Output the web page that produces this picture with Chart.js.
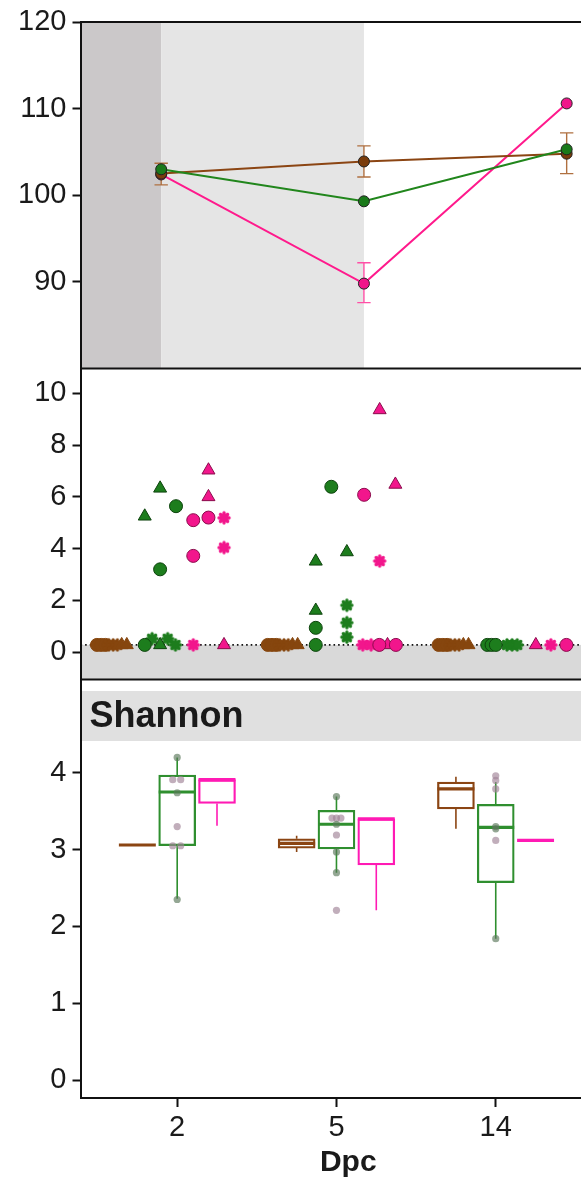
<!DOCTYPE html>
<html>
<head>
<meta charset="utf-8">
<script src="https://cdn.jsdelivr.net/npm/chart.js@4.4.1/dist/chart.umd.min.js"></script>
<style>
  body { margin: 0; background: #fff; overflow: hidden; width: 581px; height: 1181px; position: relative; }
  canvas { position: absolute; left: 0; }
</style>
</head>
<body>
<canvas id="weight" width="620" height="375" style="top:0px"></canvas>
<canvas id="load" width="620" height="330" style="top:358px"></canvas>
<canvas id="shannon" width="620" height="509" style="top:672px"></canvas>
<script>
// days post challenge
const dpc = ['2', '5', '14'];

// top panel - body weight (%)
const weightTicks = [90, 100, 110, 120];
const weightGreen = [103.0, 99.3, 105.3];
const weightBrown = [102.5, 103.9, 104.8];
const weightPink = [102.4, 89.8, 110.6];
const errBrown = [[101.2, 103.7], [102.1, 105.7], [102.5, 107.2]];
const errPink = [null, [87.6, 92.2], null];
const shadeEnds = [0, 1];   // dark grey until day index 0, light grey until day index 1

// middle panel - load per animal, [day index, value]
const loadTicks = [0, 2, 4, 6, 8, 10];
const lod = 0.28;
const loadGreenCircle = [[0, lod], [0, 3.2], [0, 5.64], [1, lod], [1, 0.94], [1, 6.39], [2, lod], [2, lod], [2, lod]];
const loadGreenTriangle = [[0, 5.25], [0, 6.33], [0, lod], [1, 3.51], [1, 1.61], [1, 3.87]];
const loadGreenStar = [[0, 0.52], [0, 0.52], [0, lod], [1, 1.81], [1, 1.14], [1, 0.58], [2, lod], [2, lod], [2, lod]];
const loadPinkCircle = [[0, 5.1], [0, 3.72], [0, 5.2], [1, 6.08], [1, lod], [1, lod], [2, lod]];
const loadPinkTriangle = [[0, 7.03], [0, 6.0], [0, lod], [1, 9.36], [1, 6.48], [1, lod], [2, lod]];
const loadPinkStar = [[0, 5.19], [0, 4.04], [0, lod], [1, 3.52], [1, lod], [1, lod], [2, lod]];
const loadBrownCircle = [[0, lod], [0, lod], [0, lod], [1, lod], [1, lod], [1, lod], [2, lod], [2, lod], [2, lod]];
const loadBrownStar = [[0, lod], [0, lod], [0, lod], [1, lod], [1, lod], [1, lod], [2, lod], [2, lod], [2, lod]];
const loadBrownTriangle = [[0, lod], [0, lod], [1, lod], [1, lod], [2, lod], [2, lod]];

// horizontal jitter of the points above (day units)
const jitGreenCircle = [-0.09, 0, 0.093, -0.089, -0.089, 0.002, -0.085, -0.06, -0.035];
const jitGreenTriangle = [-0.09, 0, 0, -0.089, -0.089, 0.093];
const jitGreenStar = [-0.047, 0.044, 0.09, 0.093, 0.093, 0.093, 0.03, 0.06, 0.09];
const jitPinkCircle = [0.194, 0.194, 0.283, 0.194, 0.283, 0.38, 0.378];
const jitPinkTriangle = [0.283, 0.283, 0.374, 0.285, 0.377, 0.331, 0.199];
const jitPinkStar = [0.374, 0.374, 0.194, 0.285, 0.186, 0.235, 0.287];
const jitBrownCircle = [-0.37, -0.345, -0.32, -0.37, -0.345, -0.32, -0.37, -0.345, -0.32];
const jitBrownStar = [-0.3, -0.275, -0.25, -0.3, -0.275, -0.25, -0.3, -0.275, -0.25];
const jitBrownTriangle = [-0.225, -0.195, -0.225, -0.195, -0.225, -0.195];

// bottom panel - Shannon index, [min, q1, median, q3, max] per day
const shannonTicks = [0, 1, 2, 3, 4];
const shannonBrown = [[3.06, 3.06, 3.06, 3.06, 3.06], [2.97, 3.02, 3.08, 3.14, 3.18], [3.27, 3.53, 3.79, 3.88, 3.95]];
const shannonGreen = [[2.36, 3.05, 3.75, 3.97, 4.2], [2.7, 3.01, 3.33, 3.51, 3.69], [1.84, 2.57, 3.29, 3.59, 3.88]];
const shannonPink = [[3.31, 3.6, 3.91, 3.91, 3.91], [2.21, 2.8, 3.4, 3.4, 3.4], [3.12, 3.12, 3.12, 3.12, 3.12]];
// single samples, [day index, value]
const dotsGreenGrey = [[0, 4.2], [0, 3.74], [0, 2.35], [1, 3.69], [1, 3.33], [1, 2.97], [1, 2.7], [2, 3.3], [2, 3.27], [2, 1.84]];
const dotsPinkGrey = [[0, 3.91], [0, 3.91], [0, 3.3], [0, 3.05], [0, 3.05], [1, 3.41], [1, 3.41], [1, 3.41], [1, 3.19], [1, 2.21], [2, 3.96], [2, 3.9], [2, 3.79], [2, 3.12]];
const jitGreenGrey = [0, 0, 0, 0, 0, 0, 0, 0, 0, 0];
const jitPinkGrey = [-0.028, 0.022, 0, -0.028, 0.022, -0.028, 0, 0.028, 0, 0, 0, 0, 0, 0];

Chart.defaults.font.family = "'Liberation Sans', Arial, sans-serif";
Chart.defaults.color = '#1a1a1a';
Chart.defaults.animation = false;
Chart.defaults.plugins.legend.display = false;
Chart.defaults.plugins.tooltip.enabled = false;

function yAxis(min, max, ticks) {
    return {
        type: 'linear', min: min, max: max,
        afterBuildTicks: function (s) { s.ticks = ticks.map(function (v) { return { value: v }; }); },
        afterFit: function (s) { s.width = 80.5; s.paddingTop = 0; s.paddingBottom = 0; },
        border: { display: true, color: '#111', width: 2 },
        grid: { drawOnChartArea: false, tickLength: 8, tickWidth: 2, tickColor: '#111' },
        ticks: { font: { size: 29 }, color: '#1a1a1a', padding: 6 }
    };
}

function hiddenX(min, max) {
    return { type: 'linear', min: min, max: max, display: false };
}

// segments list -> points with gaps between
function segs(list) {
    var out = [];
    list.forEach(function (s) {
        out.push({ x: s[0], y: s[1] }, { x: s[2], y: s[3] }, { x: s[0], y: null });
    });
    return out;
}

function place(pairs, jit) {
    return pairs.map(function (p, i) { return { x: p[0] + jit[i], y: p[1] }; });
}

function starImg(color) {
    var c = document.createElement('canvas');
    c.width = 16; c.height = 16;
    var g = c.getContext('2d');
    g.lineCap = 'round';
    g.strokeStyle = color;
    g.lineWidth = 3.4;
    for (var i = 0; i < 4; i++) {
        var a = i * Math.PI / 4;
        g.beginPath();
        g.moveTo(8 - 5 * Math.cos(a), 8 - 5 * Math.sin(a));
        g.lineTo(8 + 5 * Math.cos(a), 8 + 5 * Math.sin(a));
        g.stroke();
    }
    g.fillStyle = color;
    g.beginPath(); g.arc(8, 8, 4, 0, Math.PI * 2); g.fill();
    return c;
}

function framePlugin(edges) {
    return {
        id: 'frame',
        afterDatasetsDraw: function (chart) {
            var a = chart.chartArea, c = chart.ctx;
            c.save();
            c.strokeStyle = '#111';
            c.lineWidth = 2;
            edges.forEach(function (e) {
                var y = e === 'top' ? a.top : a.bottom;
                c.beginPath(); c.moveTo(a.left, y); c.lineTo(a.right, y); c.stroke();
            });
            c.restore();
        }
    };
}

// ---------- top panel ----------
function errSegs(err, cap) {
    var list = [];
    err.forEach(function (e, i) {
        if (!e) return;
        list.push([i, e[0], i, e[1]], [i - cap, e[0], i + cap, e[0]], [i - cap, e[1], i + cap, e[1]]);
    });
    return segs(list);
}

function lineSet(vals, lineColor, fill) {
    return {
        type: 'scatter', showLine: true,
        data: vals.map(function (v, i) { return { x: i, y: v }; }),
        borderColor: lineColor, borderWidth: 2,
        pointRadius: 5.5, pointBackgroundColor: fill, pointBorderColor: '#222', pointBorderWidth: 1
    };
}

new Chart(document.getElementById('weight'), {
    type: 'scatter',
    data: {
        datasets: [
            lineSet(weightGreen, '#21861c', '#1a7a1a'),
            lineSet(weightBrown, '#8b4513', '#7a3c0c'),
            lineSet(weightPink, '#ff1a8c', '#f0168a'),
            { type: 'scatter', showLine: true, data: errSegs(errBrown, 0.033), borderColor: '#b07040', borderWidth: 1.4, pointRadius: 0 },
            { type: 'scatter', showLine: true, data: errSegs(errPink, 0.033), borderColor: '#ff4fa6', borderWidth: 1.4, pointRadius: 0 }
        ]
    },
    options: {
        responsive: false,
        layout: { padding: { top: 22, bottom: 4, left: 0, right: 0 } },
        scales: { x: hiddenX(-0.398, 2.231), y: yAxis(80, 120, weightTicks) }
    },
    plugins: [{
        id: 'shade',
        beforeDraw: function (chart) {
            var a = chart.chartArea, c = chart.ctx, x = chart.scales.x;
            var x0 = x.getPixelForValue(shadeEnds[0]), x1 = x.getPixelForValue(shadeEnds[1]);
            c.save();
            c.fillStyle = '#cbc8c9';
            c.fillRect(a.left, a.top, x0 - a.left, a.bottom - a.top);
            c.fillStyle = '#e5e5e5';
            c.fillRect(x0, a.top, x1 - x0, a.bottom - a.top);
            c.restore();
        }
    }, framePlugin(['top', 'bottom'])]
});

// ---------- middle panel ----------
function markSet(pairs, jit, style, fill, edge, r) {
    return {
        type: 'scatter',
        data: place(pairs, jit),
        pointStyle: style, pointRadius: r, backgroundColor: fill, borderColor: edge, borderWidth: 1
    };
}

new Chart(document.getElementById('load'), {
    type: 'scatter',
    data: {
        datasets: [
            markSet(loadPinkCircle, jitPinkCircle, 'circle', '#f2168c', '#8a0c4c', 6.5),
            markSet(loadPinkTriangle, jitPinkTriangle, 'triangle', '#f2168c', '#8a0c4c', 7.5),
            markSet(loadPinkStar, jitPinkStar, starImg('#f2168c'), '#f2168c', '#f2168c', 7),
            markSet(loadGreenCircle, jitGreenCircle, 'circle', '#1d7d1d', '#0d430d', 6.5),
            markSet(loadGreenTriangle, jitGreenTriangle, 'triangle', '#1d7d1d', '#0d430d', 7.5),
            markSet(loadGreenStar, jitGreenStar, starImg('#1d7d1d'), '#1d7d1d', '#1d7d1d', 7),
            markSet(loadBrownTriangle, jitBrownTriangle, 'triangle', '#86460e', '#86460e', 7.5),
            markSet(loadBrownStar, jitBrownStar, starImg('#86460e'), '#86460e', '#86460e', 7),
            markSet(loadBrownCircle, jitBrownCircle, 'circle', '#86460e', '#86460e', 6.5)
        ]
    },
    options: {
        responsive: false,
        layout: { padding: { top: 10, bottom: 3, left: 0, right: 0 } },
        scales: { x: hiddenX(-0.466, 2.642), y: yAxis(-1.057, 10.98, loadTicks) }
    },
    plugins: [{
        id: 'lodBand',
        beforeDraw: function (chart) {
            var a = chart.chartArea, c = chart.ctx, y = chart.scales.y.getPixelForValue(lod);
            c.save();
            c.fillStyle = '#d9d9d9';
            c.fillRect(a.left, y, a.right - a.left, a.bottom - y);
            c.restore();
        },
        beforeDatasetsDraw: function (chart) {
            var a = chart.chartArea, c = chart.ctx, y = chart.scales.y.getPixelForValue(lod);
            c.save();
            c.strokeStyle = '#111';
            c.lineWidth = 1.6;
            c.setLineDash([1.6, 3]);
            c.beginPath(); c.moveTo(a.left, y); c.lineTo(a.right, y); c.stroke();
            c.restore();
        }
    }, framePlugin(['bottom'])]
});

// ---------- bottom panel ----------
var boxOff = [-0.25, 0, 0.25];
var halfBox = 0.116;

function boxSets(stats, k, color) {
    var bars = [], meds = [], whisk = [];
    stats.forEach(function (s, d) {
        var c = d + boxOff[k];
        bars.push({ x: c, y: [s[1], s[3]] });
        meds.push([c - halfBox, s[2], c + halfBox, s[2]]);
        if (s[4] > s[3]) whisk.push([c, s[3], c, s[4]]);
        if (s[0] < s[1]) whisk.push([c, s[0], c, s[1]]);
    });
    return [
        { type: 'scatter', showLine: true, data: segs(meds), borderColor: color, borderWidth: 3.2, pointRadius: 0, borderCapStyle: 'butt' },
        { type: 'bar', data: bars, backgroundColor: 'rgba(255,255,255,0)', borderColor: color, borderWidth: 1.6,
          borderSkipped: false, barThickness: 37, grouped: false },
        { type: 'scatter', showLine: true, data: segs(whisk), borderColor: color, borderWidth: 1.6, pointRadius: 0 }
    ];
}

var shannonSets = [
    { type: 'scatter', data: place(dotsGreenGrey, jitGreenGrey), pointRadius: 3.6, backgroundColor: 'rgba(90,120,90,0.65)', borderWidth: 0 },
    { type: 'scatter', data: place(dotsPinkGrey, jitPinkGrey), pointRadius: 3.6, backgroundColor: 'rgba(160,130,150,0.65)', borderWidth: 0 }
].concat(boxSets(shannonBrown, 0, '#8b4513'), boxSets(shannonGreen, 1, '#2f8f2f'), boxSets(shannonPink, 2, '#ff1ab4'));

new Chart(document.getElementById('shannon'), {
    type: 'scatter',
    data: { datasets: shannonSets },
    options: {
        responsive: false,
        layout: { padding: { top: 8, bottom: 0, left: 0, right: 0 } },
        scales: {
            x: {
                type: 'linear', min: -0.607, max: 2.755, offset: false,
                afterBuildTicks: function (s) { s.ticks = dpc.map(function (v, i) { return { value: i }; }); },
                afterFit: function (s) { s.height = 83; },
                border: { display: true, color: '#111', width: 2 },
                grid: { offset: false, drawOnChartArea: false, tickLength: 9, tickWidth: 2, tickColor: '#111' },
                ticks: { font: { size: 29 }, color: '#1a1a1a', padding: 4, callback: function (v) { return dpc[v]; } },
                title: { display: true, text: 'Dpc', font: { size: 30, weight: 'bold' }, color: '#1a1a1a', padding: { top: 0, bottom: 0 } }
            },
            y: yAxis(-0.234, 5.208, shannonTicks)
        }
    },
    plugins: [{
        id: 'strip',
        beforeDraw: function (chart) {
            var a = chart.chartArea, c = chart.ctx;
            c.save();
            c.fillStyle = '#e0e0e0';
            c.fillRect(a.left, a.top + 11, a.right - a.left, 50);
            c.fillStyle = '#1a1a1a';
            c.font = "bold 36px 'Liberation Sans', Arial, sans-serif";
            c.textBaseline = 'middle';
            c.fillText('Shannon', a.left + 9, a.top + 37);
            c.restore();
        }
    }]
});
</script>
</body>
</html>
